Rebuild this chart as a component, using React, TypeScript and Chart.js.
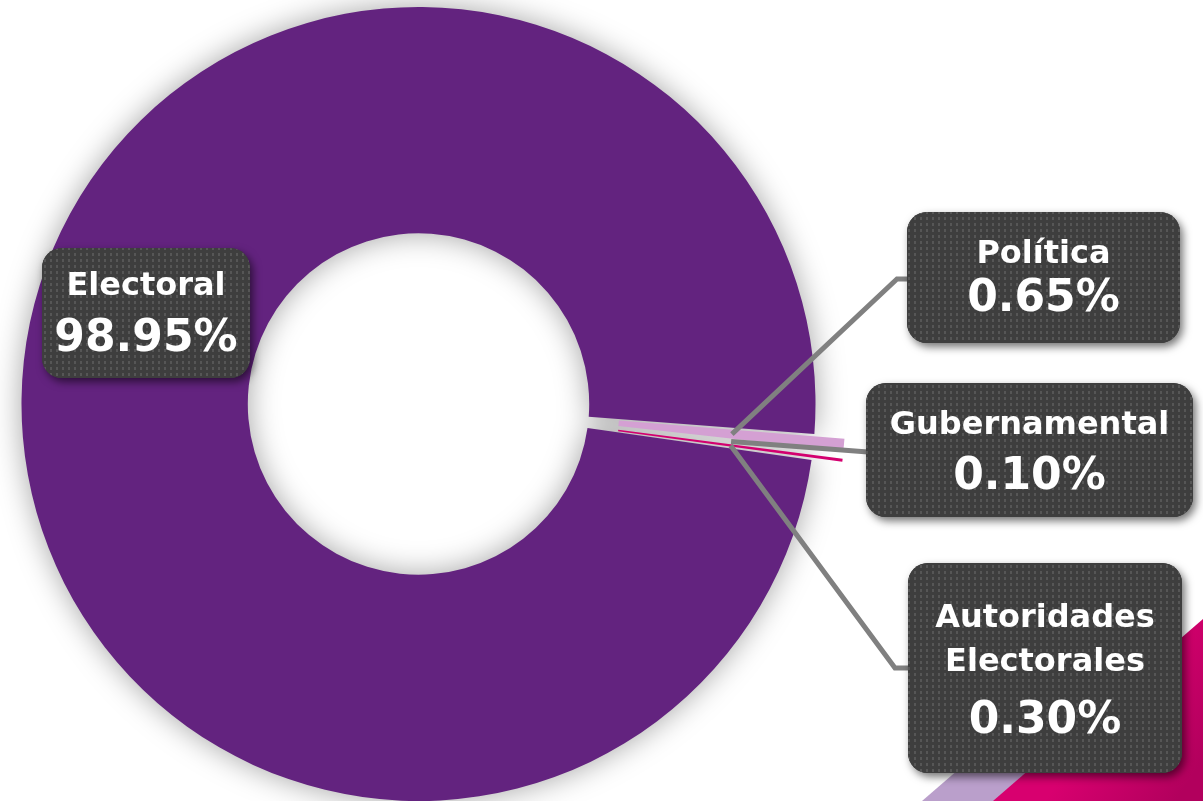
import React, { useEffect, useRef } from "react";
import { Chart, registerables } from "chart.js";

Chart.register(...registerables);

// ---- data ----
const categories = ["Electoral", "Política", "Gubernamental", "Autoridades Electorales"];
const shares = [98.95, 0.65, 0.1, 0.3];
const valueLabels = ["98.95%", "0.65%", "0.10%", "0.30%"];
const nameLines = [["Electoral"], ["Política"], ["Gubernamental"], ["Autoridades", "Electorales"]];
const sliceColors = ["#63237F", "#D4A0D3", "#13306B", "#D3006F"];
const sliceOffsets = [0, 62, 62, 62];

// ---- layout of callout boxes (x, y, w, h, baselines, elbow) ----
const boxLayout = [
  { x: 42, y: 248, w: 208, h: 130, base: [295, 351], lead: null as null | number[][] },
  { x: 907, y: 212, w: 273, h: 131, base: [263, 311], lead: [[897, 279], [909, 279]] },
  { x: 866, y: 383, w: 327, h: 134, base: [434, 489], lead: [[868, 452]] },
  { x: 908, y: 563, w: 274, h: 210, base: [627, 671, 733], lead: [[895, 668], [910, 668]] },
];

function roundRectPath(ctx: CanvasRenderingContext2D, x: number, y: number, w: number, h: number, r: number) {
  ctx.beginPath();
  ctx.moveTo(x + r, y);
  ctx.lineTo(x + w - r, y);
  ctx.arcTo(x + w, y, x + w, y + r, r);
  ctx.lineTo(x + w, y + h - r);
  ctx.arcTo(x + w, y + h, x + w - r, y + h, r);
  ctx.lineTo(x + r, y + h);
  ctx.arcTo(x, y + h, x, y + h - r, r);
  ctx.lineTo(x, y + r);
  ctx.arcTo(x, y, x + r, y, r);
  ctx.closePath();
}

let dotPattern: CanvasPattern | null = null;
function getPattern(ctx: CanvasRenderingContext2D) {
  if (dotPattern) return dotPattern;
  const c = document.createElement("canvas");
  c.width = 6;
  c.height = 6;
  const p = c.getContext("2d")!;
  p.fillStyle = "#3E3E3E";
  p.fillRect(0, 0, 6, 6);
  p.fillStyle = "#565656";
  p.fillRect(2, 1, 2, 3);
  dotPattern = ctx.createPattern(c, "repeat");
  return dotPattern;
}

const decorPlugin = {
  id: "decor",
  beforeDraw(chart: any) {
    const ctx: CanvasRenderingContext2D = chart.ctx;
    ctx.save();
    ctx.fillStyle = "#FFFFFF";
    ctx.fillRect(0, 0, chart.width, chart.height);
    ctx.fillStyle = "#BA9FCB";
    ctx.beginPath();
    ctx.moveTo(922, 801);
    ctx.lineTo(995, 801);
    ctx.lineTo(1120, 693);
    ctx.lineTo(1047, 693);
    ctx.closePath();
    ctx.fill();
    const g = ctx.createLinearGradient(1110, 700, 1203, 760);
    g.addColorStop(0, "#D8006F");
    g.addColorStop(1, "#B2005D");
    ctx.fillStyle = g;
    ctx.beginPath();
    ctx.moveTo(993, 801);
    ctx.lineTo(1203, 801);
    ctx.lineTo(1203, 619);
    ctx.closePath();
    ctx.fill();
    ctx.restore();
  },
};

// soft shadow cast only by the main (Electoral) ring segment
const shadowPlugin = {
  id: "ringShadow",
  beforeDatasetsDraw(chart: any) {
    const ctx: CanvasRenderingContext2D = chart.ctx;
    const arc = chart.getDatasetMeta(0).data[0];
    if (!arc) return;
    const p = arc.getProps(["x", "y", "startAngle", "endAngle", "innerRadius", "outerRadius"], true);
    const far = 5000;
    ctx.save();
    ctx.shadowColor = "rgba(0,0,0,0.36)";
    ctx.shadowBlur = 30;
    ctx.shadowOffsetX = far;
    ctx.fillStyle = "#000";
    ctx.beginPath();
    ctx.arc(p.x - far, p.y, p.outerRadius, p.startAngle, p.endAngle);
    ctx.arc(p.x - far, p.y, p.innerRadius, p.endAngle, p.startAngle, true);
    ctx.closePath();
    ctx.fill();
    ctx.restore();
  },
};

const calloutPlugin = {
  id: "callouts",
  afterDraw(chart: any) {
    const ctx: CanvasRenderingContext2D = chart.ctx;
    const meta = chart.getDatasetMeta(0);
    ctx.save();
    // leader lines
    ctx.strokeStyle = "#808080";
    ctx.lineWidth = 5;
    ctx.lineJoin = "miter";
    ctx.lineCap = "butt";
    boxLayout.forEach((b, i) => {
      if (!b.lead) return;
      const arc = meta.data[i];
      const p = arc.getProps(["x", "y", "startAngle", "endAngle", "innerRadius", "outerRadius"], true);
      const shift = (arc.options.offset || 0) / 2;
      const mid = (p.startAngle + p.endAngle) / 2;
      const r = (p.innerRadius + p.outerRadius) / 2 + shift;
      const ax = p.x + Math.cos(mid) * r;
      const ay = p.y + Math.sin(mid) * r;
      ctx.beginPath();
      ctx.moveTo(ax, ay);
      b.lead.forEach((pt) => ctx.lineTo(pt[0], pt[1]));
      ctx.stroke();
    });
    // boxes
    boxLayout.forEach((b, i) => {
      ctx.save();
      ctx.shadowColor = "rgba(0,0,0,0.55)";
      ctx.shadowBlur = 8;
      ctx.shadowOffsetX = 3;
      ctx.shadowOffsetY = 4;
      roundRectPath(ctx, b.x, b.y, b.w, b.h, 20);
      ctx.fillStyle = "#3E3E3E";
      ctx.fill();
      ctx.restore();
      roundRectPath(ctx, b.x, b.y, b.w, b.h, 20);
      ctx.fillStyle = getPattern(ctx) || "#3E3E3E";
      ctx.fill();

      ctx.fillStyle = "#FFFFFF";
      ctx.textAlign = "center";
      ctx.textBaseline = "alphabetic";
      const cx = b.x + b.w / 2;
      const lines = nameLines[i];
      ctx.font = "bold 32px 'DejaVu Sans'";
      lines.forEach((t, k) => ctx.fillText(t, cx, b.base[k]));
      ctx.font = "bold 44px 'DejaVu Sans'";
      ctx.fillText(valueLabels[i], cx, b.base[lines.length]);
    });
    ctx.restore();
  },
};

export default function App() {
  const ref = useRef<HTMLCanvasElement | null>(null);
  useEffect(() => {
    document.body.style.margin = "0";
    document.body.style.overflow = "hidden";
    const chart = new Chart(ref.current!, {
      type: "doughnut",
      data: {
        labels: categories,
        datasets: [
          {
            data: shares,
            backgroundColor: sliceColors,
            borderWidth: 0,
            offset: sliceOffsets,
            clip: false as any,
          },
        ],
      },
      options: {
        responsive: false,
        animation: false,
        devicePixelRatio: 1,
        rotation: 98.1,
        cutout: "43%",
        radius: 397,
        layout: { padding: { left: 0, right: 366, top: 7, bottom: 0 } },
        plugins: { legend: { display: false }, tooltip: { enabled: false } },
        events: [],
      },
      plugins: [decorPlugin, shadowPlugin, calloutPlugin],
    });
    return () => chart.destroy();
  }, []);
  return (
    <div style={{ position: "absolute", left: 0, top: 0, width: 1203, height: 801, overflow: "hidden" }}>
      <canvas ref={ref} width={1203} height={801} style={{ width: 1203, height: 801, display: "block" }} />
    </div>
  );
}
